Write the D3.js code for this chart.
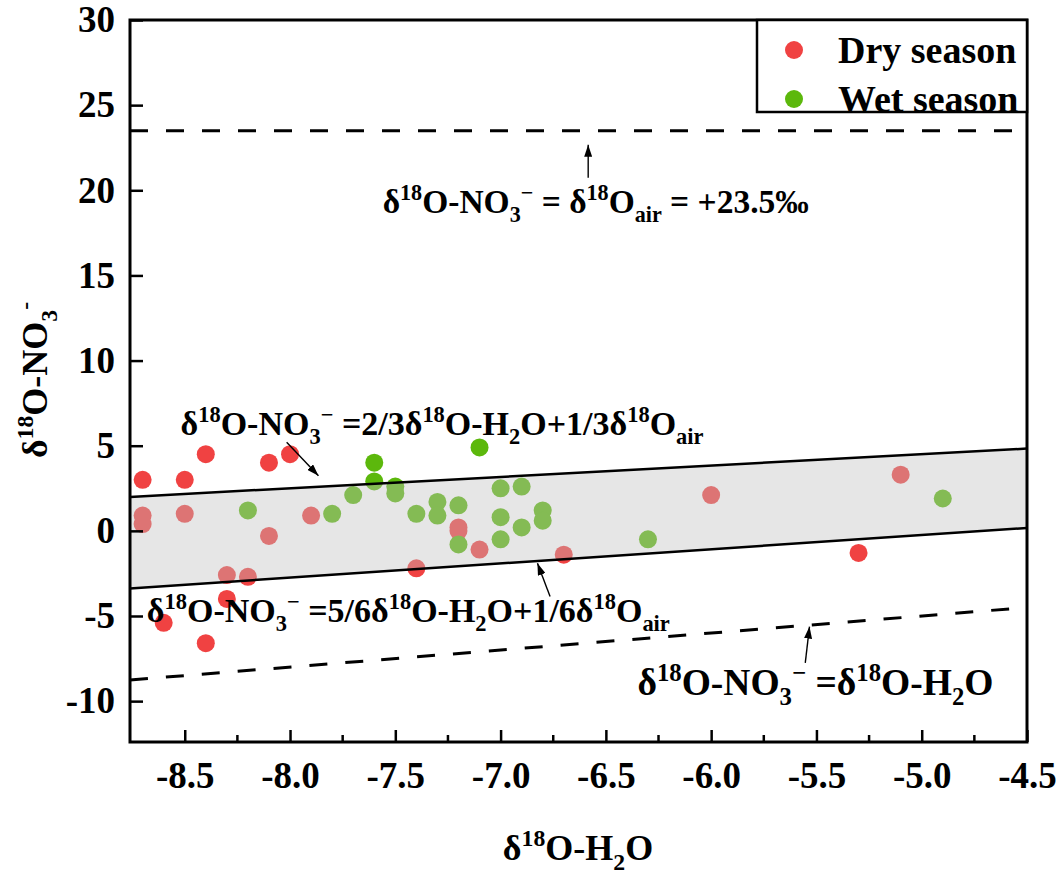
<!DOCTYPE html>
<html>
<head>
<meta charset="utf-8">
<title>d18O-NO3 vs d18O-H2O</title>
<script src="https://d3js.org/d3.v7.min.js"></script>
<style>
  body { margin: 0; background: #fff; }
  text { font-family: "Liberation Serif", "Times New Roman", serif; font-weight: bold; fill: #000; }
</style>
</head>
<body>
<script>
  // dry season samples
  var dryX = [-8.7, -8.5, -8.4, -8.1, -8.0, -8.7, -8.7, -8.5, -7.9, -8.1, -8.3, -8.2,
              -8.3, -8.6, -8.4, -7.2, -7.2, -7.1, -7.4, -6.7, -6.0, -5.1, -5.3];
  var dryY = [3.0, 3.0, 4.5, 4.0, 4.5, 0.9, 0.4, 1.0, 0.9, -0.3, -2.6, -2.7,
              -4.0, -5.4, -6.6, 0.2, 0.0, -1.1, -2.2, -1.4, 2.1, 3.3, -1.3];

  // wet season samples
  var wetX = [-8.2, -7.8, -7.7, -7.6, -7.6, -7.5, -7.5, -7.4, -7.3, -7.3, -7.2, -7.2,
              -7.1, -7.0, -6.9, -7.0, -7.0, -6.9, -6.8, -6.8, -6.3, -4.9];
  var wetY = [1.2, 1.0, 2.1, 4.0, 2.9, 2.6, 2.2, 1.0, 1.7, 0.9, 1.5, -0.8,
              4.9, 2.5, 2.6, 0.8, -0.5, 0.2, 1.2, 0.6, -0.5, 1.9];

  var xTicks = [-8.5, -8.0, -7.5, -7.0, -6.5, -6.0, -5.5, -5.0, -4.5];
  var xMinor = [-8.25, -7.75, -7.25, -6.75, -6.25, -5.75, -5.25, -4.75];
  var yTicks = [-10, -5, 0, 5, 10, 15, 20, 25, 30];

  var airO = 23.5;   // d18O of atmospheric O2

  var W = 1063, H = 874;
  var m = {left: 130, top: 20, right: 36, bottom: 132};
  var iw = W - m.left - m.right, ih = H - m.top - m.bottom;
  var serif = "'Liberation Serif', 'Times New Roman', serif";

  var svg = d3.select("body").append("svg")
    .attr("width", W)
    .attr("height", H);

  var defs = svg.append("defs");
  defs.append("marker")
    .attr("id", "head")
    .attr("viewBox", "0 0 12 8")
    .attr("refX", 12).attr("refY", 4)
    .attr("markerWidth", 12).attr("markerHeight", 8)
    .attr("markerUnits", "userSpaceOnUse")
    .attr("orient", "auto")
    .append("path").attr("d", "M0,0 L12,4 L0,8 z").attr("fill", "#000");
  defs.append("clipPath").attr("id", "legclip")
    .append("rect").attr("x", 757).attr("y", 20).attr("width", 271).attr("height", 91);

  var g = svg.append("g").attr("transform", "translate(" + m.left + "," + m.top + ")");

  var x = d3.scaleLinear().domain([-8.76, -4.5]).range([0, iw]);
  var y = d3.scaleLinear().domain([-12.4, 30]).range([ih, 0]);

  // mixing lines
  function upper(v) { return 2 / 3 * v + airO / 3; }
  function lower(v) { return 5 / 6 * v + airO / 6; }
  var x0 = x.domain()[0], x1 = x.domain()[1];

  // points
  var dry = dryX.map(function(d, i) { return {x: d, y: dryY[i]}; });
  var wet = wetX.map(function(d, i) { return {x: d, y: wetY[i]}; });

  g.selectAll("circle.dry").data(dry).enter().append("circle")
    .attr("class", "dry")
    .attr("cx", function(d) { return x(d.x); })
    .attr("cy", function(d) { return y(d.y); })
    .attr("r", 9)
    .attr("fill", "#f04242");

  g.selectAll("circle.wet").data(wet).enter().append("circle")
    .attr("class", "wet")
    .attr("cx", function(d) { return x(d.x); })
    .attr("cy", function(d) { return y(d.y); })
    .attr("r", 9)
    .attr("fill", "#5cb80c");

  // shaded band drawn over the points
  var band = [[x0, upper(x0)], [x1, upper(x1)], [x1, lower(x1)], [x0, lower(x0)]];
  g.append("path")
    .attr("d", d3.line().x(function(d) { return x(d[0]); }).y(function(d) { return y(d[1]); })(band) + "Z")
    .attr("fill", "#c0c0c0")
    .attr("fill-opacity", 0.4);

  function seg(a, b, dash) {
    g.append("line")
      .attr("x1", x(a[0])).attr("y1", y(a[1]))
      .attr("x2", x(b[0])).attr("y2", y(b[1]))
      .attr("stroke", "#000")
      .attr("stroke-width", dash ? 3 : 2.5)
      .attr("stroke-dasharray", dash ? "18,18" : null);
  }
  seg([x0, upper(x0)], [x1, upper(x1)], false);
  seg([x0, lower(x0)], [x1, lower(x1)], false);
  seg([x0, airO], [x1, airO], true);
  seg([x0, x0], [x1, x1], true);

  // axes
  var yAxis = d3.axisLeft(y).tickValues(yTicks).tickSize(-13).tickPadding(15)
    .tickFormat(d3.format("d"));
  var gy = g.append("g").call(yAxis);
  var xAxis = d3.axisBottom(x).tickValues(xTicks).tickSize(-12).tickPadding(20)
    .tickFormat(d3.format(".1f"));
  var gx = g.append("g").attr("transform", "translate(0," + ih + ")").call(xAxis);
  gx.selectAll(".minor").data(xMinor).enter().append("line")
    .attr("class", "minor")
    .attr("x1", function(d) { return x(d); }).attr("x2", function(d) { return x(d); })
    .attr("y1", 0).attr("y2", -7)
    .attr("stroke", "#000").attr("stroke-width", 2.5);

  [gx, gy].forEach(function(a) {
    a.attr("font-family", serif).attr("font-size", 37).attr("font-weight", "bold");
    a.select(".domain").remove();
    a.selectAll(".tick line").attr("stroke-width", 2.5);
    a.selectAll(".tick text")
      .style("font-size", "37px")
      .style("font-family", serif)
      .text(function(d) { return d3.format(a === gx ? ".1f" : "d")(d).replace("−", "-"); });
  });

  g.append("rect")
    .attr("width", iw).attr("height", ih)
    .attr("fill", "none").attr("stroke", "#000").attr("stroke-width", 3);

  // rich text: parts are strings or [text, "sup"|"sub"]
  function rich(sel, parts, size) {
    var shift = 0;
    parts.forEach(function(p) {
      var t = typeof p === "string" ? p : p[0];
      var kind = typeof p === "string" ? "" : p[1];
      var target = kind === "sup" ? -0.38 * size : kind === "sub" ? 0.28 * size : 0;
      sel.append("tspan")
        .attr("dy", target - shift)
        .style("font-size", (kind ? 0.66 * size : size) + "px")
        .text(t);
      shift = target;
    });
    if (shift !== 0) sel.append("tspan").attr("dy", -shift).text("");
  }

  var NO3 = ["δ", ["18", "sup"], "O-NO", ["3", "sub"], ["−", "sup"]];
  var notes = [
    {x: -7.56, y: 18.67, size: 33.5,
     parts: NO3.concat([" = δ", ["18", "sup"], "O", ["air", "sub"], " = +23.5‰"])},
    {x: -8.52, y: 5.65, size: 34,
     parts: NO3.concat([" =2/3δ", ["18", "sup"], "O-H", ["2", "sub"], "O+1/3δ", ["18", "sup"], "O", ["air", "sub"]])},
    {x: -8.68, y: -5.34, size: 34,
     parts: NO3.concat([" =5/6δ", ["18", "sup"], "O-H", ["2", "sub"], "O+1/6δ", ["18", "sup"], "O", ["air", "sub"]])},
    {x: -6.35, y: -9.63, size: 37.5,
     parts: NO3.concat([" =δ", ["18", "sup"], "O-H", ["2", "sub"], "O"])}
  ];
  notes.forEach(function(n) {
    var t = g.append("text").attr("x", x(n.x)).attr("y", y(n.y));
    rich(t, n.parts, n.size);
  });

  var arrows = [
    [[-6.584, 20.73], [-6.584, 22.67]],
    [[-8.016, 5.2], [-7.865, 3.23]],
    [[-6.765, -3.86], [-6.825, -1.90]],
    [[-5.553, -7.75], [-5.533, -5.62]]
  ];
  arrows.forEach(function(a) {
    g.append("line")
      .attr("x1", x(a[0][0])).attr("y1", y(a[0][1]))
      .attr("x2", x(a[1][0])).attr("y2", y(a[1][1]))
      .attr("stroke", "#000").attr("stroke-width", 1.4)
      .attr("marker-end", "url(#head)");
  });

  // axis titles
  var xt = svg.append("text").attr("text-anchor", "middle")
    .attr("x", 578).attr("y", 860);
  rich(xt, ["δ", ["18", "sup"], "O-H", ["2", "sub"], "O"], 36);

  var yt = svg.append("text").attr("text-anchor", "middle")
    .attr("transform", "translate(47,380) rotate(-90)");
  rich(yt, ["δ", ["18", "sup"], "O-NO", ["3", "sub"], ["-", "sup"]], 36);

  // legend
  var leg = svg.append("g");
  leg.append("rect").attr("x", 757).attr("y", 20).attr("width", 270).attr("height", 92)
    .attr("fill", "#fff").attr("stroke", "#000").attr("stroke-width", 2.5);
  var legItems = [{label: "Dry season", color: "#f04242"}, {label: "Wet season", color: "#5cb80c"}];
  var li = leg.append("g").attr("clip-path", "url(#legclip)")
    .selectAll("g").data(legItems).enter().append("g")
    .attr("transform", function(d, i) { return "translate(794," + (50 + i * 49) + ")"; });
  li.append("circle").attr("r", 9).attr("fill", function(d) { return d.color; });
  li.append("text").attr("x", 44).attr("y", 13).style("font-size", "38px")
    .text(function(d) { return d.label; });
</script>
</body>
</html>
